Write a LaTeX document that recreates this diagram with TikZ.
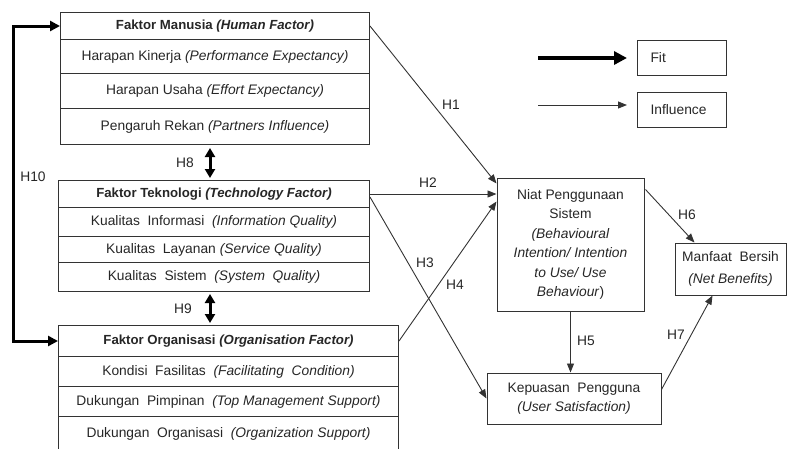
\documentclass[tikz,border=0pt]{standalone}
\usepackage{fontspec}
\setmainfont{Liberation Sans}
\usetikzlibrary{arrows.meta,calc}
\begin{document}
\begin{tikzpicture}[x=1pt,y=-1pt,
  txt/.style={font=\fontsize{13.8}{15}\selectfont, text=black!85},
  row/.style={txt, draw=black!80, line width=1pt, anchor=north west, inner sep=0pt},
  hdr/.style={row, font=\fontsize{13.2}{15}\selectfont\bfseries},
  box/.style={txt, draw=black!80, line width=1pt, inner sep=0pt, align=center},
  legbox/.style={txt, draw=black!80, line width=1pt, anchor=north west, minimum width=89pt, minimum height=35pt, text width=63pt, inner xsep=13pt, align=left},
  inf/.style={draw=black!80, line width=0.9pt, -{Triangle[length=9pt,width=7pt]}},
  fitarr/.style={draw=black, line width=4pt, -{Triangle[length=13pt,width=13pt]}},
  dbl/.style={draw=black, line width=3pt, {Triangle[length=9pt,width=10pt]}-{Triangle[length=9pt,width=10pt]}},
  lab/.style={txt, inner sep=0pt}
]
\useasboundingbox (0,0) rectangle (788,448);
\clip (0,0) rectangle (788,448);

% Human factor
\node[hdr, minimum width=309pt, minimum height=27pt] (h0) at (60,12) {Faktor Manusia \textit{(Human Factor)}};
\node[row, minimum width=309pt, minimum height=34pt] (h1) at (60,39) {Harapan Kinerja \textit{(Performance Expectancy)}};
\node[row, minimum width=309pt, minimum height=35pt] (h2) at (60,73) {Harapan Usaha \textit{(Effort Expectancy)}};
\node[row, minimum width=309pt, minimum height=36pt] (h3) at (60,108) {Pengaruh Rekan \textit{(Partners Influence)}};

% Technology factor
\node[hdr, minimum width=311pt, minimum height=27pt] (t0) at (58,180) {Faktor Teknologi \textit{(Technology Factor)}};
\node[row, minimum width=311pt, minimum height=29pt] (t1) at (58,207) {Kualitas\ \ Informasi\ \ \textit{(Information Quality)}};
\node[row, minimum width=311pt, minimum height=26pt] (t2) at (58,236) {Kualitas\ \ Layanan \textit{(Service Quality)}};
\node[row, minimum width=311pt, minimum height=29pt] (t3) at (58,262) {Kualitas\ \ Sistem\ \ \textit{(System\ \ Quality)}};

% Organisation factor
\node[hdr, minimum width=340pt, minimum height=31pt] (o0) at (58,325) {Faktor Organisasi \textit{(Organisation Factor)}};
\node[row, minimum width=340pt, minimum height=30pt] (o1) at (58,356) {Kondisi\ \ Fasilitas\ \ \textit{(Facilitating\ \ Condition)}};
\node[row, minimum width=340pt, minimum height=30pt] (o2) at (58,386) {Dukungan\ \ Pimpinan\ \ \textit{(Top Management Support)}};
\node[row, minimum width=340pt, minimum height=34pt] (o3) at (58,416) {Dukungan\ \ Organisasi\ \ \textit{(Organization Support)}};

% Right side boxes
\node[box, minimum width=147pt, minimum height=133pt, font=\fontsize{13.8}{19.4}\selectfont] (niat) at (570.5,244.5)
  {Niat Penggunaan\\Sistem\\\textit{(Behavioural}\\\textit{Intention/ Intention}\\\textit{to Use/ Use}\\\textit{Behaviour})};
\node[box, minimum width=111pt, minimum height=52pt, font=\fontsize{13.8}{22}\selectfont] (mb) at (730.5,269)
  {Manfaat\ \ Bersih\\\textit{(Net Benefits)}};
\node[box, minimum width=174pt, minimum height=51pt, font=\fontsize{13.8}{19}\selectfont] (kep) at (574,398.5)
  {Kepuasan\ \ Pengguna\\\textit{(User Satisfaction)}};

% Legend
\node[legbox] (fit) at (637,40) {Fit};
\node[legbox] (infl) at (637,92) {Influence};
\coordinate (fitS) at (538,58);
\coordinate (fitE) at (627,58);
\coordinate (infS) at (538,105);
\coordinate (infE) at (627,105);
\draw[fitarr] (fitS) -- (fitE);
\draw[inf] (infS) -- (infE);

% H10
\coordinate (h10c) at (13,0);
\draw[draw=black, line width=3pt, {Triangle[length=10pt,width=10pt]}-{Triangle[length=10pt,width=10pt]}]
  (h0.west) -- (h0.west -| h10c) -- (o0.west -| h10c) -- (o0.west);
\node[lab] (lh10) at (33,177) {H10};

% H8, H9
\coordinate (dx) at (210,0);
\draw[dbl] ($(h3.south -| dx)+(0,3)$) -- ($(t0.north -| dx)+(0,-2)$);
\node[lab] (lh8) at (185,163) {H8};
\draw[dbl] ($(t3.south -| dx)+(0,2)$) -- ($(o0.north -| dx)+(0,-2)$);
\node[lab] (lh9) at (183,309) {H9};

% Hypotheses
\draw[inf] (h0.east) -- ($(niat.north west)+(0,6)$);
\node[lab] (lh1) at (451,105) {H1};
\draw[inf] (t0.east) -- (niat.west |- t0.east);
\node[lab] (lh2) at (428,183) {H2};
\draw[inf] ($(t0.east)+(0,3)$) -- (kep.west);
\node[lab] (lh3) at (425,263) {H3};
\draw[inf] (o0.east) -- ($(niat.north west)+(0,24)$);
\node[lab] (lh4) at (455,285) {H4};
\draw[inf] (niat.south) -- (niat.south |- kep.north);
\node[lab] (lh5) at (586,341) {H5};
\draw[inf] ($(niat.north east)+(1,12)$) -- ($(mb.north west)+(20,0)$);
\node[lab] (lh6) at (687,215) {H6};
\draw[inf] ($(kep.east)+(0,-9)$) -- ($(mb.south west)+(38,0)$);
\node[lab] (lh7) at (676,335) {H7};
\end{tikzpicture}
\end{document}
